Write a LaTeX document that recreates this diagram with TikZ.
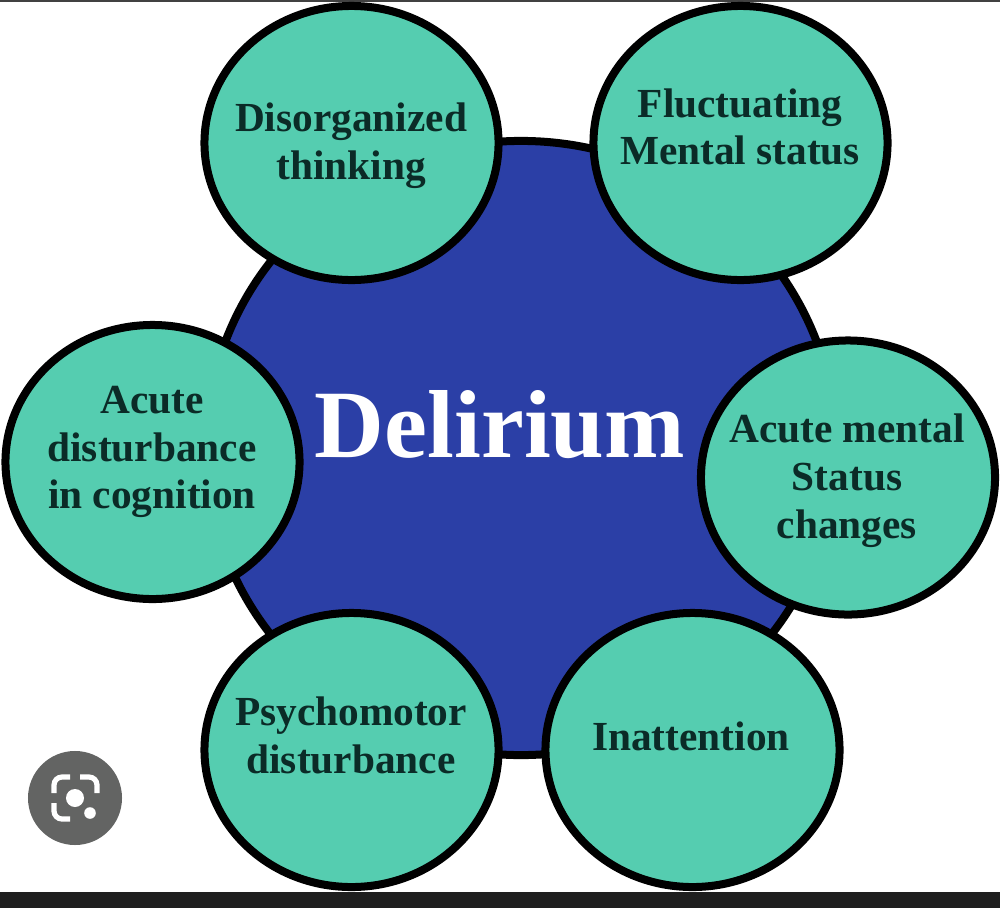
\documentclass[tikz,border=0pt]{standalone}
\usepackage{fontspec}
\setmainfont{Liberation Serif}
\usetikzlibrary{shapes.geometric}
\definecolor{hub-blue}{HTML}{2B3FA6}
\definecolor{petal-teal}{HTML}{55CDB0}
\definecolor{petal-text}{HTML}{0B2B27}
\definecolor{lens-grey}{HTML}{636463}
\definecolor{bar-dark}{HTML}{1F1F1F}
\tikzset{
  petal/.style={ellipse, draw=black, fill=petal-teal, line width=0.2cm,
    inner sep=0pt, minimum width=7.35cm, minimum height=6.85cm},
  petaltext/.style={align=center, text=petal-text,
    font=\fontsize{29.4}{34}\selectfont\bfseries},
  lensmark/.style={draw=white, line width=0.13cm, rounded corners=0.2cm}
}
\begin{document}
\begin{tikzpicture}[x=0.025cm, y=-0.025cm]
    \useasboundingbox (0,0) rectangle (1000,908);
    \fill[white] (0,0) rectangle (1000,908);
    \fill[bar-dark] (0,892) rectangle (1000,908);
    \fill[bar-dark!85] (0,0) rectangle (1000,2);
    % centre
    \node[ellipse, draw=black, fill=hub-blue, line width=0.2cm, inner sep=0pt,
          minimum width=15.75cm, minimum height=15.35cm] (hub) at (521,448) {};
    \node[text=white, font=\fontsize{68.7}{70}\selectfont\bfseries] (delirium) at (500,425) {Delirium};
    % outer circles
    \node[petal] (thinking) at (351.5,143) {};
    \node[petal] (fluctuating) at (740.5,143) {};
    \node[petal] (cognition) at (152.5,462) {};
    \node[petal] (changes) at (848,477.5) {};
    \node[petal] (psychomotor) at (351.5,750) {};
    \node[petal] (inattention) at (692.5,750) {};
    \node[petaltext] (thinkingtext) at (351,146) {Disorganized\\thinking};
    \node[petaltext] (fluctuatingtext) at (740,127) {Fluctuating\\Mental status};
    \node[petaltext] (cognitiontext) at (152,452) {Acute\\disturbance\\in cognition};
    \node[petaltext] (changestext) at (847,481) {Acute mental\\Status\\changes};
    \node[petaltext] (psychomotortext) at (351,735.5) {Psychomotor\\disturbance};
    \node[petaltext] (inattentiontext) at (691,736) {Inattention};
    % lens button
    \node[circle, fill=lens-grey, inner sep=0pt, minimum size=2.35cm] (lens) at (75,798) {};
    \node[circle, fill=white, inner sep=0pt, minimum size=0.45cm] (lensdot) at (75,798) {};
    \node[circle, fill=white, inner sep=0pt, minimum size=0.29cm] (lenssmall) at (90,813) {};
    \draw[lensmark] (54,793) -- (54,777) -- (70,777);
    \draw[lensmark] (80,777) -- (97,777) -- (97,793);
    \draw[lensmark] (54,803) -- (54,819) -- (70,819);
\end{tikzpicture}
\end{document}
